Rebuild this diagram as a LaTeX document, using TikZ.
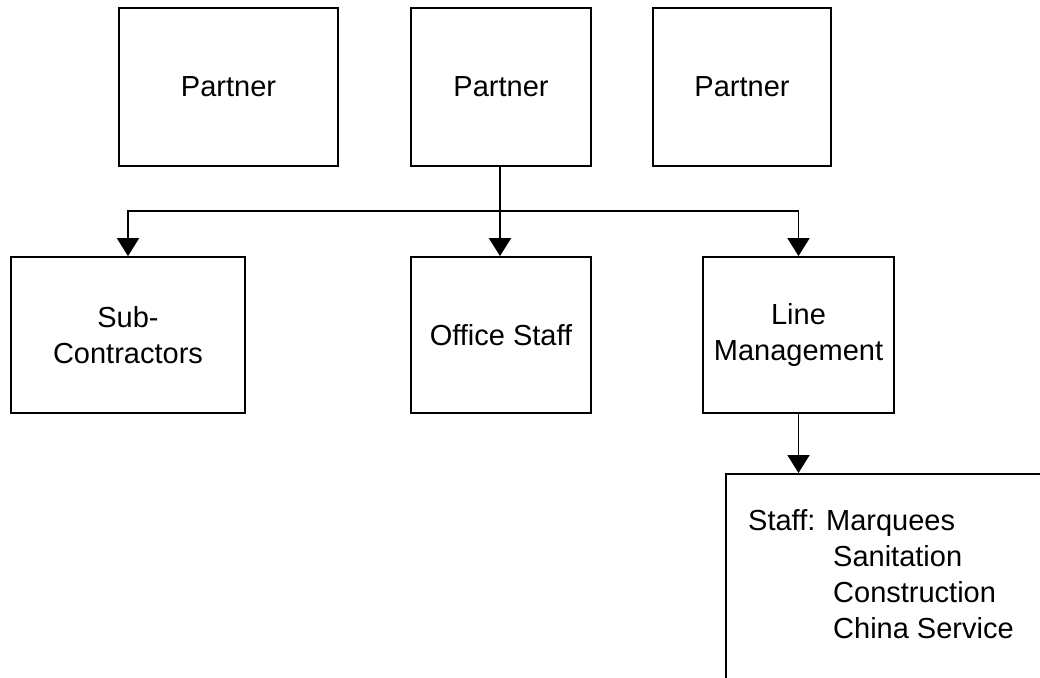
\documentclass[tikz,border=0pt]{standalone}
\usepackage{fontspec}
\setmainfont{Liberation Sans}
\usetikzlibrary{arrows.meta}
\tikzset{
  box/.style={draw, line width=1.8pt, inner sep=0pt, align=center, font=\fontsize{29}{36}\selectfont},
  arr/.style={line width=1.8pt, -{Triangle[width=22pt,length=18pt]}},
  txt/.style={inner sep=0pt, align=left, font=\fontsize{29}{36}\selectfont}
}
\begin{document}
\begin{tikzpicture}[x=1pt,y=-1pt]
\useasboundingbox (0,0) rectangle (1040,677);
\clip (0,0) rectangle (1040,677);
\fill[white] (0,0) rectangle (1040,677);
% top row
\node[box, minimum width=219pt, minimum height=158pt] (p1) at (228.5,87) {Partner};
\node[box, minimum width=180pt, minimum height=158pt] (p2) at (501,87) {Partner};
\node[box, minimum width=178pt, minimum height=158pt] (p3) at (742,87) {Partner};
% middle row
\node[box, minimum width=234pt, minimum height=156pt] (sub) at (128,335) {Sub-\\Contractors};
\node[box, minimum width=180pt, minimum height=156pt] (office) at (501,335) {Office Staff};
\node[box, minimum width=191pt, minimum height=156pt] (lm) at (798.5,335) {Line\\Management};
% bottom box (cut off by the picture edge)
\node[box, anchor=north west, minimum width=400pt, minimum height=300pt] (staff) at (725,473) {};
\node[txt, anchor=north west] (stafftext) at (748,509) {Staff: Marquees\\\hspace*{85pt}Sanitation\\\hspace*{85pt}Construction\\\hspace*{85pt}China Service};
% connectors
\coordinate (j) at (500,211);
\draw[arr] (p2.south -| j) -- (office.north -| j);
\draw[arr] (j) -| (sub.north);
\draw[arr] (j) -| (lm.north);
\draw[arr] (lm.south) -- (lm.south |- staff.north);
\end{tikzpicture}
\end{document}
